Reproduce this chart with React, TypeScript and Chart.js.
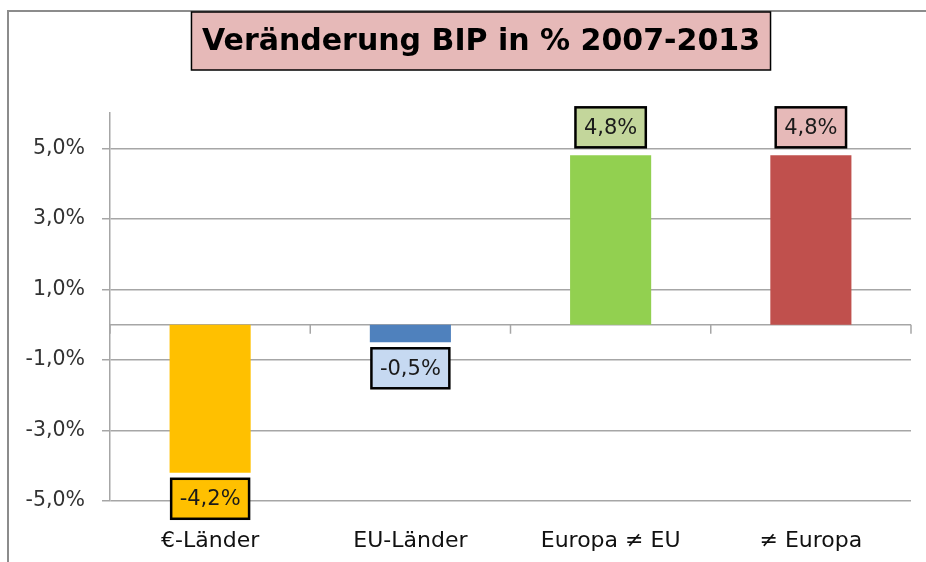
import React, { useEffect, useRef } from 'react';
import { Chart, registerables } from 'chart.js';

Chart.register(...registerables);

// ---- data ----
const CATEGORIES = ['€-Länder', 'EU-Länder', 'Europa ≠ EU', '≠ Europa'];
const VALUES = [-4.2, -0.5, 4.8, 4.8];
const Y_TICKS = [-5, -3, -1, 1, 3, 5];
const Y_MIN = -5;
const Y_MAX = 6;
const TITLE = 'Veränderung BIP in % 2007-2013';

// ---- styles ----
const BAR_COLORS = ['#FFC000', '#4F81BD', '#92D050', '#C0504D'];
const LABEL_FILLS = ['#FFC000', '#C6D9F1', '#C3D69B', '#E6B9B8'];
const TITLE_FILL = '#E6B9B8';
const GRID = '#a6a6a6';
const FONT = '"DejaVu Sans", sans-serif';

const fmt = (v: number) => v.toFixed(1).replace('.', ',') + '%';

const decor = {
  id: 'decor',
  beforeDraw(chart: any) {
    const ctx = chart.ctx as CanvasRenderingContext2D;
    ctx.save();
    ctx.fillStyle = '#ffffff';
    ctx.fillRect(0, 0, chart.width, chart.height);
    // outer frame (partially visible)
    ctx.strokeStyle = '#8c8c8c';
    ctx.lineWidth = 2;
    ctx.beginPath();
    ctx.moveTo(8, chart.height);
    ctx.lineTo(8, 11);
    ctx.lineTo(chart.width, 11);
    ctx.stroke();
    // title box
    ctx.font = `bold 30px ${FONT}`;
    const tw = ctx.measureText(TITLE).width;
    const cx = 481;
    const cy = 41;
    const bw = tw + 21;
    const bh = 58;
    ctx.fillStyle = TITLE_FILL;
    ctx.fillRect(cx - bw / 2, cy - bh / 2, bw, bh);
    ctx.strokeStyle = '#000';
    ctx.lineWidth = 1.5;
    ctx.strokeRect(cx - bw / 2, cy - bh / 2, bw, bh);
    ctx.fillStyle = '#000';
    ctx.textAlign = 'center';
    ctx.textBaseline = 'middle';
    ctx.fillText(TITLE, cx, cy + 1);
    ctx.restore();
  },
  beforeDatasetsDraw(chart: any) {
    const ctx = chart.ctx as CanvasRenderingContext2D;
    const xs = chart.scales.x;
    const ys = chart.scales.y;
    const y0 = ys.getPixelForValue(0);
    ctx.save();
    ctx.strokeStyle = GRID;
    ctx.lineWidth = 1.5;
    ctx.beginPath();
    ctx.moveTo(chart.chartArea.left, y0);
    ctx.lineTo(chart.chartArea.right, y0);
    for (let i = 0; i <= CATEGORIES.length; i++) {
      const px = xs.getPixelForValue(i - 0.5);
      ctx.moveTo(px, y0);
      ctx.lineTo(px, y0 + 9);
    }
    ctx.stroke();
    ctx.restore();
  },
  afterDatasetsDraw(chart: any) {
    const ctx = chart.ctx as CanvasRenderingContext2D;
    const meta = chart.getDatasetMeta(0);
    ctx.save();
    ctx.font = `21px ${FONT}`;
    ctx.textAlign = 'center';
    ctx.textBaseline = 'middle';
    meta.data.forEach((el: any, i: number) => {
      const v = VALUES[i];
      const txt = fmt(v);
      const tw = ctx.measureText(txt).width;
      const bw = tw + 17;
      const bh = 40;
      const top = v >= 0 ? el.y - 8 - bh : el.y + 6;
      const left = el.x - bw / 2;
      ctx.fillStyle = LABEL_FILLS[i];
      ctx.fillRect(left, top, bw, bh);
      ctx.strokeStyle = '#000';
      ctx.lineWidth = 2.5;
      ctx.strokeRect(left, top, bw, bh);
      ctx.fillStyle = '#1a1a1a';
      ctx.fillText(txt, el.x, top + bh / 2 + 1);
    });
    ctx.restore();
  },
};

export default function App() {
  const ref = useRef<HTMLCanvasElement | null>(null);
  useEffect(() => {
    if (!ref.current) return;
    const chart = new Chart(ref.current, {
      type: 'bar',
      data: {
        labels: CATEGORIES,
        datasets: [
          {
            data: VALUES,
            backgroundColor: BAR_COLORS,
            borderWidth: 0,
            barPercentage: 0.405,
            categoryPercentage: 1,
          },
        ],
      },
      options: {
        responsive: false,
        animation: false,
        devicePixelRatio: 1,
        layout: { padding: { left: 14, right: 15, top: 113, bottom: 0 } },
        plugins: {
          legend: { display: false },
          title: { display: false },
          tooltip: { enabled: false },
        },
        scales: {
          x: {
            grid: { display: false, drawTicks: false },
            border: { display: false },
            ticks: {
              font: { family: FONT, size: 22 },
              color: '#111',
              padding: 27,
            },
            afterFit: (s: any) => {
              s.height = 61;
            },
          },
          y: {
            min: Y_MIN,
            max: Y_MAX,
            afterBuildTicks: (axis: any) => {
              axis.ticks = Y_TICKS.map((v) => ({ value: v }));
            },
            ticks: {
              callback: (v: any) => fmt(Number(v)),
              font: { family: FONT, size: 20.5 },
              color: '#333',
              padding: 17,
            },
            grid: { color: GRID, lineWidth: 1.5, tickLength: 8 },
            border: { color: GRID, width: 1.5 },
            afterFit: (s: any) => {
              s.width = 96;
            },
          },
        },
      },
      plugins: [decor],
    });
    return () => chart.destroy();
  }, []);
  return (
    <div style={{ position: 'absolute', left: 0, top: 0, width: 926, height: 562 }}>
      <canvas ref={ref} width={926} height={562} style={{ display: 'block' }} />
    </div>
  );
}
